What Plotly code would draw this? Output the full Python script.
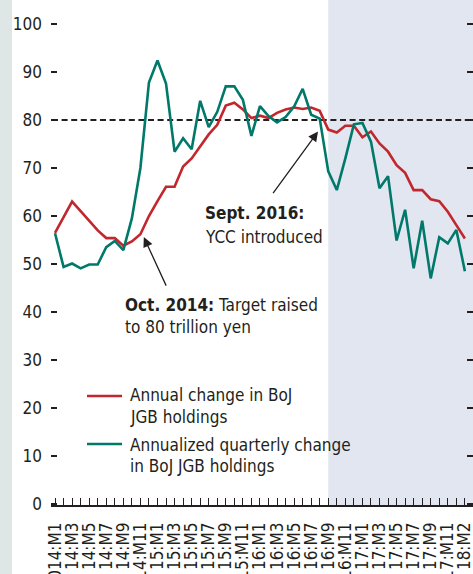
import plotly.graph_objects as go

# Monthly observations, 2014:M1 onward (trillion yen)
months = list(range(49))
annual_change = [56.5, 59.8, 63.0, 61.0, 59.0, 57.0, 55.4, 55.4, 53.8, 54.7,
                 56.2, 60.0, 63.1, 66.1, 66.1, 70.3, 72.0, 74.6, 77.0, 79.0,
                 83.0, 83.6, 82.2, 80.4, 80.9, 80.4, 81.5, 82.2, 82.6, 82.3,
                 82.6, 81.9, 78.0, 77.4, 78.8, 78.8, 76.4, 77.6, 75.1, 73.4,
                 70.6, 69.0, 65.4, 65.4, 63.5, 63.1, 60.9, 58.1, 55.3]
quarterly_annualized = [56.4, 49.4, 50.1, 49.1, 49.9, 49.9, 53.5, 54.8, 52.9, 59.5,
                        70.0, 87.8, 92.4, 87.6, 73.4, 76.2, 73.9, 84.0, 78.5, 81.7,
                        87.0, 87.0, 84.2, 76.7, 82.9, 80.8, 79.5, 80.6, 82.8, 86.5,
                        81.1, 80.3, 69.3, 65.4, 72.0, 79.1, 79.4, 75.5, 65.8, 68.3,
                        54.9, 61.3, 49.1, 59.0, 47.0, 55.6, 54.3, 57.1, 48.5]
tick_labels = ["2014:M1", "14:M3", "14:M5", "14:M7", "14:M9", "14:M11",
               "15:M1", "15:M3", "15:M5", "15:M7", "15:M9", "15:M11",
               "16:M1", "16:M3", "16:M5", "16:M7", "16:M9", "16:M11",
               "17:M1", "17:M3", "17:M5", "17:M7", "17:M9", "17:M11", "18:M2"]
y_ticks = [0, 10, 20, 30, 40, 50, 60, 70, 80, 90, 100]
target = 80
ycc_start = 32  # 2016:M9

RED = "#c1272d"
GREEN = "#00796a"
INK = "#231f20"
FONT = "DejaVu Sans Condensed, Liberation Sans, sans-serif"
FS = 17

W, H = 473, 574
ML, MR, MT, MB = 51, 0, 0, 69
PW, PH = W - ML - MR, H - MT - MB


def px(x):
    return (x - ML) / PW


def py(y):
    return (H - MB - y) / PH


fig = go.Figure()
fig.add_trace(go.Scatter(x=months, y=annual_change, mode="lines",
                         line=dict(color=RED, width=2.6),
                         name="Annual change in BoJ JGB holdings", showlegend=False))
fig.add_trace(go.Scatter(x=months, y=quarterly_annualized, mode="lines",
                         line=dict(color=GREEN, width=2.6),
                         name="Annualized quarterly change in BoJ JGB holdings",
                         showlegend=False))

x_lo, x_hi = -0.47, 48.95
tickvals = months
ticktext = []
for m in months:
    ticktext.append(tick_labels[m // 2] if m % 2 == 0 else "")

shapes = [
    # left side strip
    dict(type="rect", xref="paper", yref="paper", x0=px(0), x1=px(12), y0=-0.5, y1=1.0,
         fillcolor="#dee7e5", line=dict(width=0), layer="below"),
    # YCC period
    dict(type="rect", xref="x", yref="paper", x0=ycc_start, x1=x_hi, y0=0, y1=1,
         fillcolor="#e2e6f1", line=dict(width=0), layer="below"),
    # target line
    dict(type="line", xref="paper", yref="y", x0=px(52), x1=1, y0=target, y1=target,
         line=dict(color=INK, width=2.2, dash="6px,3.6px"), layer="below"),
    # legend keys
    dict(type="line", xref="paper", yref="paper", x0=px(87), x1=px(122), y0=py(396), y1=py(396),
         line=dict(color=RED, width=2.6)),
    dict(type="line", xref="paper", yref="paper", x0=px(87), x1=px(122), y0=py(444), y1=py(444),
         line=dict(color=GREEN, width=2.6)),
]

annotations = []


def text_at(x, y, s, size=FS):
    annotations.append(dict(xref="paper", yref="paper", x=px(x), y=py(y), text=s,
                            showarrow=False, xanchor="left", yanchor="middle",
                            font=dict(family=FONT, size=size, color=INK), borderpad=0))


text_at(129, 395, "Annual change in BoJ")
text_at(129, 417, "JGB holdings")
text_at(129, 445, "Annualized quarterly change")
text_at(129, 466, "in BoJ JGB holdings")
text_at(204, 213, "<b>Sept. 2016:</b>")
text_at(204, 237, "YCC introduced")
text_at(124, 305, "<b>Oct. 2014:</b> Target raised")
text_at(124, 327, "to 80 trillion yen")

# arrows pointing at the policy events
annotations.append(dict(xref="x", yref="y", x=30.8, y=77.6, ax=-46, ay=63,
                        axref="pixel", ayref="pixel", text="", showarrow=True,
                        arrowhead=2, arrowsize=1.5, arrowwidth=1.3, arrowcolor=INK, standoff=0))
annotations.append(dict(xref="x", yref="y", x=10.4, y=55.6, ax=23, ay=50,
                        axref="pixel", ayref="pixel", text="", showarrow=True,
                        arrowhead=2, arrowsize=1.5, arrowwidth=1.3, arrowcolor=INK, standoff=0))

fig.update_layout(
    width=W, height=H,
    margin=dict(l=ML, r=MR, t=MT, b=MB, pad=0, autoexpand=False),
    paper_bgcolor="white", plot_bgcolor="rgba(0,0,0,0)",
    font=dict(family=FONT, size=FS, color=INK),
    showlegend=False,
    shapes=shapes,
    annotations=annotations,
    xaxis=dict(range=[x_lo, x_hi], tickmode="array", tickvals=tickvals, ticktext=ticktext,
               tickangle=-90, ticks="inside", ticklen=7, tickwidth=1.3, tickcolor=INK,
               showline=True, linecolor=INK, linewidth=1.5, showgrid=False, zeroline=False,
               ticklabelstandoff=9, ticklabeloverflow="allow", automargin=False,
               tickfont=dict(size=FS)),
    yaxis=dict(range=[-0.21, 105], tickmode="array", tickvals=y_ticks,
               ticks="inside", ticklen=6, tickwidth=2, tickcolor=INK, mirror="ticks",
               showline=False, showgrid=False, zeroline=False, ticklabelstandoff=8,
               automargin=False, tickfont=dict(size=FS)),
)

fig.write_html("out.html")
